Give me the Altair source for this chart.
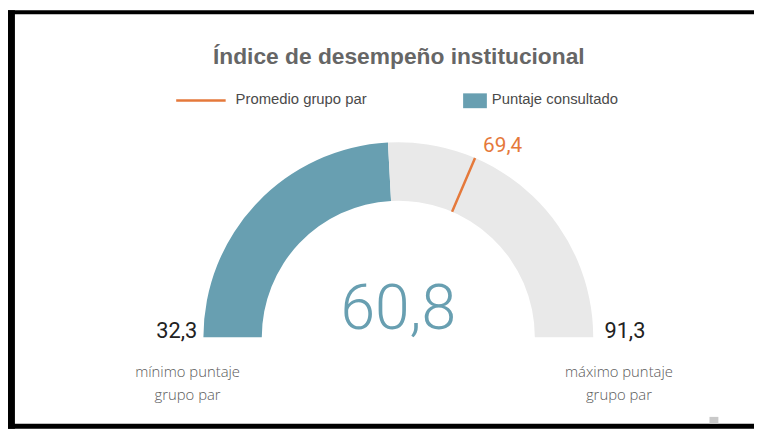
import math
import altair as alt
import pandas as pd

# ---------------- data ----------------
TITLE = "Índice de desempeño institucional"
LEGEND_NAMES = ["Promedio grupo par", "Puntaje consultado"]
MIN_VAL = 32.3
MAX_VAL = 91.3
SCORE = 60.8
PEER_AVG = 69.4
MIN_CAPTION = "mínimo puntaje\ngrupo par"
MAX_CAPTION = "máximo puntaje\ngrupo par"


def fmt(v):
    return f"{v:.1f}".replace(".", ",")


# ---------------- style ----------------
TEAL = "#689fb1"
GRAY = "#e9e9e9"
ORANGE = "#e5793b"
W, H = 754, 423
CX, CY = 394.5, 330.5
R_OUT, R_IN = 197, 138
NUM_FONT = "Roboto"
BIG_FONT = "Roboto"
TXT_FONT = "Liberation Sans"
CAP_FONT = "Open Sans"

theta_scale = alt.Scale(domain=[MIN_VAL, MAX_VAL],
                        range=[-math.pi / 2, math.pi / 2], zero=False, nice=False)

gauge_df = pd.DataFrame({
    "start": [MIN_VAL, SCORE],
    "end": [SCORE, MAX_VAL],
    "part": ["Puntaje consultado", "Resto"],
})
peer_df = pd.DataFrame({"v": [PEER_AVG], "label": [fmt(PEER_AVG)]})
min_df = pd.DataFrame({"v": [MIN_VAL], "label": [fmt(MIN_VAL)], "cap": [MIN_CAPTION]})
max_df = pd.DataFrame({"v": [MAX_VAL], "label": [fmt(MAX_VAL)], "cap": [MAX_CAPTION]})
score_df = pd.DataFrame({"v": [SCORE], "label": [fmt(SCORE)]})
one = pd.DataFrame({"a": [0]})
legend_df = pd.DataFrame({"name": LEGEND_NAMES})

center = dict(x=alt.value(CX), y=alt.value(CY))

arcs = alt.Chart(gauge_df).mark_arc(radius=R_OUT, radius2=R_IN).encode(
    theta=alt.Theta("start:Q", scale=theta_scale, stack=None),
    theta2="end:Q",
    color=alt.Color("part:N",
                    scale=alt.Scale(domain=["Puntaje consultado", "Resto"], range=[TEAL, GRAY]),
                    legend=None),
    **center,
)

marker = alt.Chart(peer_df).mark_arc(
    radius=R_OUT, radius2=R_IN, stroke=ORANGE, strokeWidth=2.5, fillOpacity=0, strokeCap="butt"
).encode(
    theta=alt.Theta("v:Q", scale=theta_scale, stack=None),
    theta2="v:Q",
    **center,
)

peer_label = alt.Chart(peer_df).mark_text(
    radius=210, align="left", baseline="middle", dx=3, fontSize=21, font=NUM_FONT, color=ORANGE
).encode(
    theta=alt.Theta("v:Q", scale=theta_scale, stack=None),
    text="label:N",
    **center,
)


def end_layers(df, val_radius, cap_radius):
    val = alt.Chart(df).mark_text(
        radius=val_radius, align="center", baseline="alphabetic", dy=1, fontSize=22,
        font=NUM_FONT, color="#222222"
    ).encode(
        theta=alt.Theta("v:Q", scale=theta_scale, stack=None),
        text="label:N",
        **center,
    )
    cap = alt.Chart(df).mark_text(
        radius=cap_radius, align="center", baseline="alphabetic", dy=40, fontSize=15,
        lineBreak="\n", lineHeight=23, font=CAP_FONT, fontWeight=300, color="#5a5a5a"
    ).encode(
        theta=alt.Theta("v:Q", scale=theta_scale, stack=None),
        text="cap:N",
        **center,
    )
    return [val, cap]


big = alt.Chart(score_df).mark_text(
    align="center", baseline="alphabetic", dy=-8.5, fontSize=63, fontWeight=300,
    font=BIG_FONT, color=TEAL
).encode(text="label:N", **center)

title = alt.Chart(one).mark_text(
    text=TITLE, align="center", baseline="alphabetic", fontSize=23, fontWeight="bold",
    font=TXT_FONT, color="#666666"
).encode(x=alt.value(395), y=alt.value(54))

# legend (decoration)
leg_line = alt.Chart(one).mark_rule(color=ORANGE, strokeWidth=2.5).encode(
    x=alt.value(170), x2=alt.value(220), y=alt.value(91.3))
leg_line_txt = alt.Chart(legend_df.iloc[[0]]).mark_text(
    align="left", baseline="alphabetic", fontSize=15, font=TXT_FONT, color="#4a4a4a"
).encode(text="name:N", x=alt.value(230), y=alt.value(95))
leg_box = alt.Chart(one).mark_rect(color=TEAL).encode(
    x=alt.value(460), x2=alt.value(484), y=alt.value(84), y2=alt.value(99))
leg_box_txt = alt.Chart(legend_df.iloc[[1]]).mark_text(
    align="left", baseline="alphabetic", fontSize=15, font=TXT_FONT, color="#4a4a4a"
).encode(text="name:N", x=alt.value(489), y=alt.value(95))

# frame (decoration)
frame_top = alt.Chart(one).mark_rect(color="black").encode(
    x=alt.value(0), x2=alt.value(W), y=alt.value(0), y2=alt.value(4))
frame_left = alt.Chart(one).mark_rect(color="black").encode(
    x=alt.value(0), x2=alt.value(7), y=alt.value(0), y2=alt.value(H))
frame_bottom = alt.Chart(one).mark_rect(color="black").encode(
    x=alt.value(0), x2=alt.value(W), y=alt.value(418), y2=alt.value(H))
chip = alt.Chart(one).mark_rect(color="#c9c9c9").encode(
    x=alt.value(709), x2=alt.value(718), y=alt.value(411), y2=alt.value(418))

layers = [frame_top, frame_left, frame_bottom, chip, title,
          leg_line, leg_line_txt, leg_box, leg_box_txt,
          arcs, marker, peer_label, big]
layers += end_layers(min_df, 224, 213)
layers += end_layers(max_df, 229, 223)

chart = alt.layer(*layers).properties(
    width=W, height=H, autosize=alt.AutoSizeParams(type="none"), padding=0
).configure_view(stroke=None)

chart.save("out.html", embed_options={"renderer": "svg", "actions": False})
